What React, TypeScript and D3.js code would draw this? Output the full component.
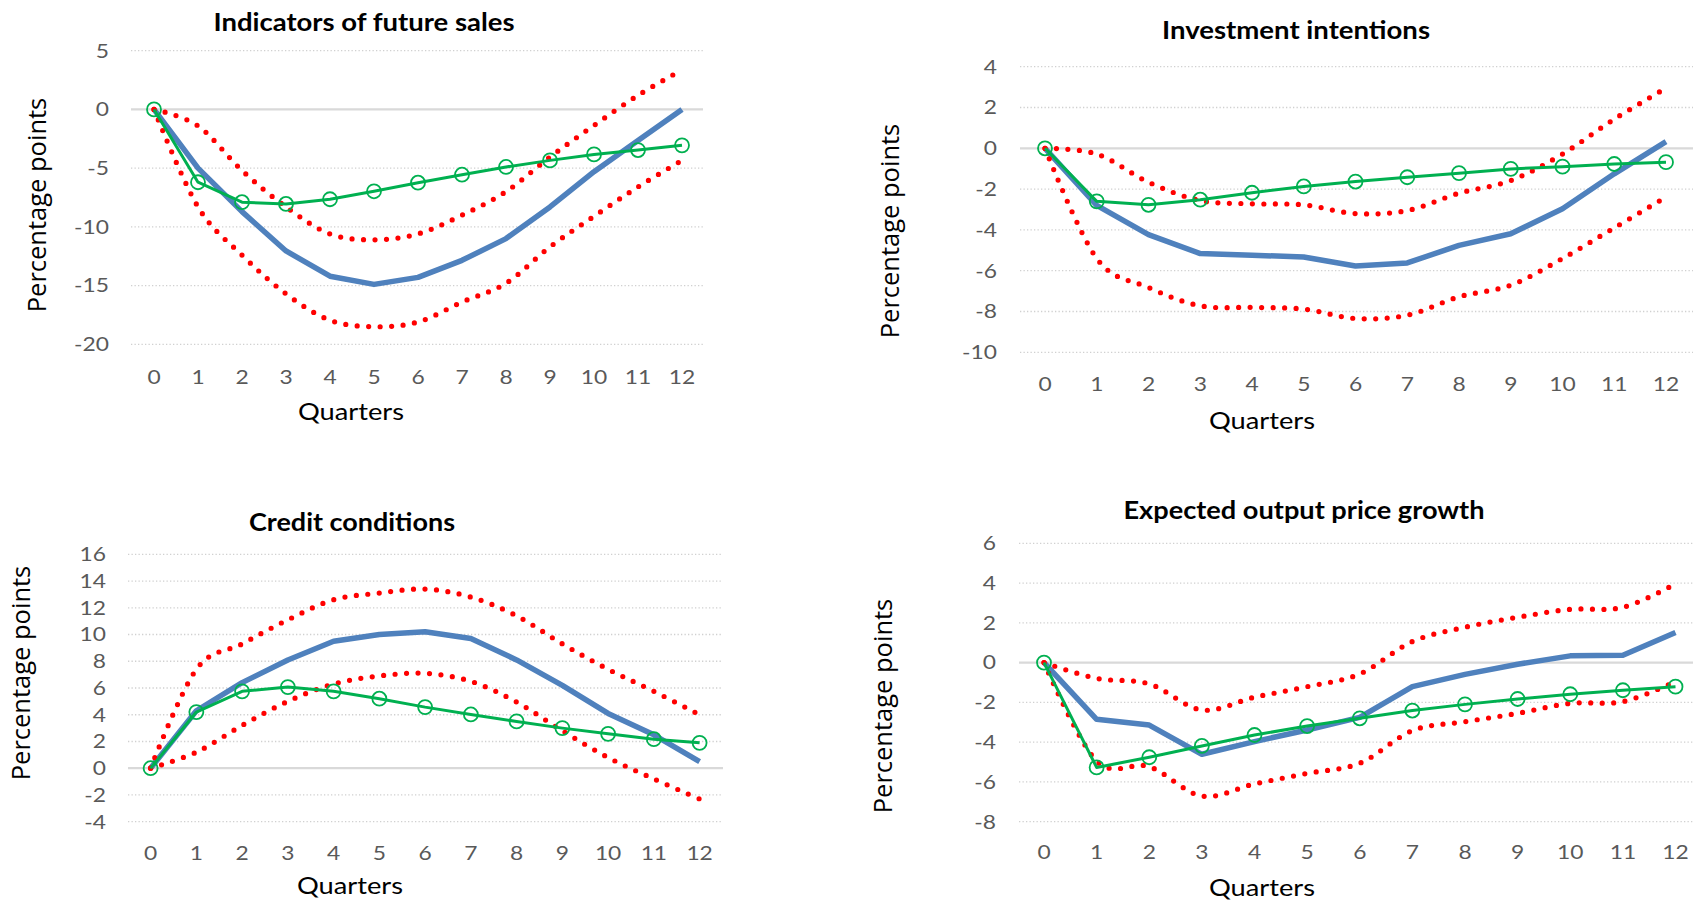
import React from "react";
import * as d3 from "d3";

// ---------- data ----------
const quarters = [0, 1, 2, 3, 4, 5, 6, 7, 8, 9, 10, 11, 12];

const salesResponse = [0, -5.0, -8.7, -12.05, -14.2, -14.9, -14.3, -12.85, -11.0, -8.3, -5.3, -2.65, 0.0];
const salesAlt = [0, -6.2, -7.9, -8.05, -7.65, -6.97, -6.24, -5.56, -4.9, -4.34, -3.83, -3.46, -3.06];
const salesUpper = [0, -1.4, -5.2, -8.3, -10.6, -11.1, -10.6, -9.0, -7.0, -4.05, -1.36, 1.2, 3.37];
const salesLower = [0, -8.3, -12.4, -15.7, -17.95, -18.5, -18.1, -16.4, -14.8, -11.7, -9.1, -6.6, -4.34];
const salesTicks = [-20, -15, -10, -5, 0, 5];

const invResponse = [0, -2.8, -4.23, -5.16, -5.24, -5.33, -5.77, -5.62, -4.76, -4.19, -2.96, -1.25, 0.33];
const invAlt = [0, -2.6, -2.77, -2.52, -2.18, -1.87, -1.63, -1.42, -1.22, -1.01, -0.9, -0.77, -0.68];
const invUpper = [0, -0.28, -1.66, -2.56, -2.72, -2.77, -3.2, -3.05, -2.2, -1.58, -0.28, 1.43, 2.95];
const invLower = [0, -5.4, -6.82, -7.72, -7.8, -7.88, -8.34, -8.18, -7.28, -6.71, -5.4, -3.9, -2.39];
const invTicks = [-10, -8, -6, -4, -2, 0, 2, 4];

const creditResponse = [0, 4.3, 6.4, 8.1, 9.5, 10.0, 10.2, 9.7, 8.1, 6.2, 4.1, 2.5, 0.5];
const creditAlt = [0, 4.2, 5.75, 6.07, 5.75, 5.2, 4.57, 4.02, 3.5, 3.0, 2.57, 2.17, 1.9];
const creditUpper = [0, 7.4, 9.3, 11.1, 12.6, 13.1, 13.4, 12.8, 11.4, 9.3, 7.4, 5.75, 4.0];
const creditLower = [0, 1.2, 3.2, 5.0, 6.3, 6.9, 7.1, 6.5, 4.95, 2.8, 0.8, -0.8, -2.3];
const creditTicks = [-4, -2, 0, 2, 4, 6, 8, 10, 12, 14, 16];

const priceResponse = [0, -2.85, -3.14, -4.61, -3.97, -3.39, -2.75, -1.21, -0.59, -0.08, 0.34, 0.37, 1.51];
const priceAlt = [0, -5.27, -4.76, -4.19, -3.64, -3.19, -2.8, -2.41, -2.1, -1.83, -1.59, -1.39, -1.21];
const priceUpper = [0, -0.79, -1.07, -2.38, -1.74, -1.21, -0.57, 1.06, 1.78, 2.28, 2.68, 2.78, 3.96];
const priceLower = [0, -4.95, -5.23, -6.71, -6.1, -5.57, -5.06, -3.42, -2.97, -2.55, -2.05, -1.96, -0.96];
const priceTicks = [-8, -6, -4, -2, 0, 2, 4, 6];

const titles = [
  "Indicators of future sales",
  "Investment intentions",
  "Credit conditions",
  "Expected output price growth",
];
const xAxisLabel = "Quarters";
const yAxisLabel = "Percentage points";

// ---------- layout (styles / positions) ----------
type Layout = {
  x0: number; x12: number; gx1: number; gx2: number;
  yTop: number; yBot: number;
  tickRight: number; xTickY: number;
  titleX: number; titleY: number; titleW: number;
  qX: number; qY: number;
  ylX: number; ylY: number;
};

const layouts: Layout[] = [
  { x0: 154, x12: 682, gx1: 131, gx2: 703, yTop: 50.7, yBot: 344.3, tickRight: 109, xTickY: 377,
    titleX: 364, titleY: 22, titleW: 301, qX: 351, qY: 411, ylX: 40, ylY: 205 },
  { x0: 1045, x12: 1666, gx1: 1020, gx2: 1693, yTop: 66.7, yBot: 352.3, tickRight: 997, xTickY: 384,
    titleX: 1296, titleY: 30.5, titleW: 268, qX: 1262, qY: 420.5, ylX: 893, ylY: 231 },
  { x0: 150.6, x12: 699.6, gx1: 128, gx2: 723, yTop: 554.3, yBot: 821.7, tickRight: 106, xTickY: 852.7,
    titleX: 352, titleY: 522.3, titleW: 206, qX: 350, qY: 885, ylX: 24, ylY: 673 },
  { x0: 1044, x12: 1675.5, gx1: 1019, gx2: 1693, yTop: 543.3, yBot: 821.7, tickRight: 996, xTickY: 851.7,
    titleX: 1304, titleY: 510, titleW: 361, qX: 1262, qY: 887.5, ylX: 886, ylY: 706 },
];

const panelsData = [
  { ticks: salesTicks, resp: salesResponse, alt: salesAlt, up: salesUpper, lo: salesLower },
  { ticks: invTicks, resp: invResponse, alt: invAlt, up: invUpper, lo: invLower },
  { ticks: creditTicks, resp: creditResponse, alt: creditAlt, up: creditUpper, lo: creditLower },
  { ticks: priceTicks, resp: priceResponse, alt: priceAlt, up: priceUpper, lo: priceLower },
];

const BLUE = "#4F81BD";
const GREEN = "#00B050";
const RED = "#FF0000";
const TICK_COLOR = "#595959";
const CAL = "Lato, 'Open Sans', sans-serif";

function Panel({ idx }: { idx: number }) {
  const L = layouts[idx];
  const D = panelsData[idx];
  const ticks = D.ticks;
  const x = d3.scaleLinear().domain([0, 12]).range([L.x0, L.x12]);
  const y = d3
    .scaleLinear()
    .domain([ticks[0], ticks[ticks.length - 1]])
    .range([L.yBot, L.yTop]);

  const straight = d3
    .line<number>()
    .x((_, i) => x(quarters[i]))
    .y((v) => y(v));
  const smooth = d3
    .line<number>()
    .x((_, i) => x(quarters[i]))
    .y((v) => y(v))
    .curve(d3.curveCardinal.tension(0));

  const tickFs = 19;
  const sx = 1.2;

  return (
    <g>
      {/* gridlines */}
      {ticks.map((t) =>
        t === 0 ? null : (
          <line
            key={"g" + t}
            x1={L.gx1}
            x2={L.gx2}
            y1={y(t)}
            y2={y(t)}
            stroke="#D0D0D0"
            strokeWidth={1.3}
            strokeDasharray="1.3 2.2"
          />
        )
      )}
      <line x1={L.gx1} x2={L.gx2} y1={y(0)} y2={y(0)} stroke="#D9D9D9" strokeWidth={2.2} />

      {/* y tick labels */}
      {ticks.map((t) => (
        <text
          key={"yt" + t}
          transform={`translate(${L.tickRight},${y(t) + tickFs * 0.36}) scale(${sx},1)`}
          textAnchor="end"
          fontFamily={CAL}
          fontSize={tickFs}
          fill={TICK_COLOR}
        >
          {t}
        </text>
      ))}
      {/* x tick labels */}
      {quarters.map((q) => (
        <text
          key={"xt" + q}
          transform={`translate(${x(q)},${L.xTickY + tickFs * 0.36}) scale(${sx},1)`}
          textAnchor="middle"
          fontFamily={CAL}
          fontSize={tickFs}
          fill={TICK_COLOR}
        >
          {q}
        </text>
      ))}

      {/* series */}
      <path d={straight(D.resp) || ""} fill="none" stroke={BLUE} strokeWidth={5.5} strokeLinejoin="round" />
      <path
        d={smooth(D.up) || ""}
        fill="none"
        stroke={RED}
        strokeWidth={5.2}
        strokeDasharray="0 11.5"
        strokeLinecap="round"
      />
      <path
        d={smooth(D.lo) || ""}
        fill="none"
        stroke={RED}
        strokeWidth={5.2}
        strokeDasharray="0 11.5"
        strokeLinecap="round"
      />
      <path d={straight(D.alt) || ""} fill="none" stroke={GREEN} strokeWidth={3} strokeLinejoin="round" />
      {D.alt.map((v, i) => (
        <circle key={"c" + i} cx={x(quarters[i])} cy={y(v)} r={7} fill="none" stroke={GREEN} strokeWidth={1.8} />
      ))}

      {/* title */}
      <text
        x={L.titleX - L.titleW / 2}
        y={L.titleY + 24 * 0.36}
        fontFamily={CAL}
        fontWeight="bold"
        fontSize={24}
        fill="#000"
        textLength={L.titleW}
        lengthAdjust="spacingAndGlyphs"
      >
        {titles[idx]}
      </text>
      {/* x axis label */}
      <text
        x={L.qX - 53}
        y={L.qY + 24 * 0.36}
        fontFamily={CAL}
        fontSize={24}
        fill="#000"
        textLength={106}
        lengthAdjust="spacingAndGlyphs"
      >
        {xAxisLabel}
      </text>
      {/* y axis label */}
      <text
        transform={`translate(${L.ylX + 6},${L.ylY}) rotate(-90)`}
        textAnchor="middle"
        fontFamily="'Open Sans', sans-serif"
        fontSize={25.5}
        fill="#000"
      >
        {yAxisLabel}
      </text>
    </g>
  );
}

export default function App() {
  return (
    <svg
      width={1695}
      height={900}
      viewBox="0 0 1695 900"
      style={{ position: "absolute", left: 0, top: 0, background: "#fff" }}
    >
      <rect width={1695} height={900} fill="#fff" />
      {[0, 1, 2, 3].map((i) => (
        <Panel key={i} idx={i} />
      ))}
    </svg>
  );
}
